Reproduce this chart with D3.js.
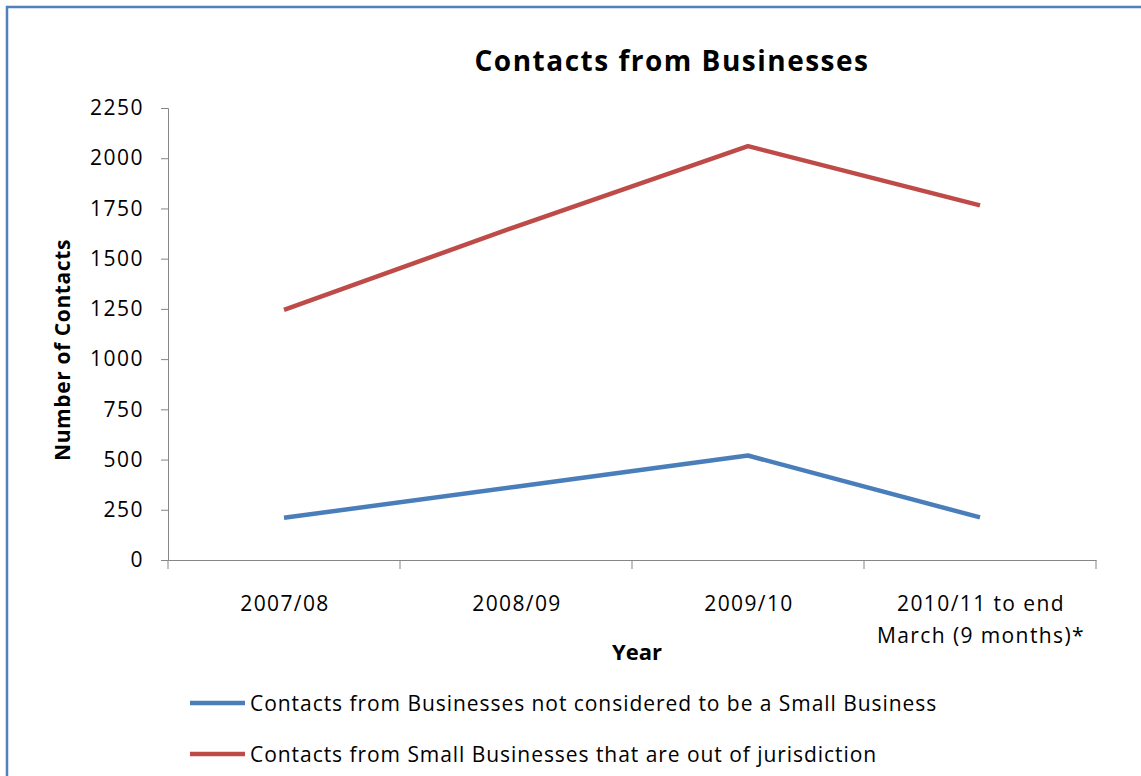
<!DOCTYPE html>
<html><head><meta charset="utf-8">
<script src="https://cdn.jsdelivr.net/npm/d3@7"></script>
<style>body{margin:0;background:#fff;font-family:"Open Sans",sans-serif;}</style>
</head><body>
<svg id="c" width="1141" height="776"></svg>
<script>
const categories = ["2007/08", "2008/09", "2009/10", "2010/11 to end|March (9 months)*"];
const notSmall = [210, 365, 520, 212];
const outOfJurisdiction = [1245, 1660, 2060, 1765];
const seriesNames = ["Contacts from Businesses not considered to be a Small Business",
                     "Contacts from Small Businesses that are out of jurisdiction"];
const yTicks = [0, 250, 500, 750, 1000, 1250, 1500, 1750, 2000, 2250];
const colors = ["#4a7ebb", "#be4b48"];

const svg = d3.select("#c");
const font = "'Open Sans', sans-serif";
// border
svg.append("path").attr("d", "M7,776 L7,7 L1141,7").attr("fill","none").attr("stroke","#4f81bd").attr("stroke-width",2.5);

const x = d3.scaleBand().domain(categories).range([168, 1096]).padding(0);
const y = d3.scaleLinear().domain([0, 2250]).range([560, 108]);
const axisColor = "#868686";

// y axis
const ya = svg.append("g").attr("transform","translate(168,0)")
  .call(d3.axisLeft(y).tickValues(yTicks).tickSize(7).tickPadding(17).tickFormat(d3.format("d")));
ya.select(".domain").attr("stroke", axisColor);
ya.selectAll(".tick line").attr("stroke", axisColor);
ya.selectAll("text").attr("font-size", 21).attr("letter-spacing", 1.5).attr("font-family", font).attr("fill","#000");

// x axis
const xa = svg.append("g").attr("transform","translate(0,560)")
  .call(d3.axisBottom(x).tickSize(0).tickFormat(""));
xa.select(".domain").attr("stroke", axisColor);
const xt = categories.map(c => x(c)).concat([x.range()[1]]);
svg.selectAll(".xtick").data(xt).enter().append("line")
  .attr("x1", d=>d).attr("x2", d=>d).attr("y1",560).attr("y2",569).attr("stroke",axisColor);
categories.forEach(c => {
  const lines = c.split("|");
  const cx = x(c) + x.bandwidth()/2 + 1;
  const t = svg.append("text").attr("x", cx).attr("y", 611)
    .attr("text-anchor","middle").attr("font-size",21).attr("letter-spacing",1.4).attr("font-family",font).attr("fill","#000");
  lines.forEach((l,i) => t.append("tspan").attr("x", cx).attr("dy", i===0?0:32).text(l));
});

// lines
const line = d3.line().x((d,i)=>x(categories[i]) + x.bandwidth()/2).y(d=>y(d));
[notSmall, outOfJurisdiction].forEach((s,i) => {
  svg.append("path").attr("d", line(s)).attr("fill","none").attr("stroke",colors[i])
    .attr("stroke-width",4.5).attr("stroke-linejoin","round");
});

// titles
svg.append("text").attr("x", 672).attr("y", 71).attr("text-anchor","middle")
  .attr("font-size",28).attr("letter-spacing",1.5).attr("font-weight","bold").attr("font-family",font).text("Contacts from Businesses");
svg.append("text").attr("transform","translate(70,350) rotate(-90)").attr("text-anchor","middle")
  .attr("font-size",21).attr("letter-spacing",0.6).attr("font-weight","bold").attr("font-family",font).text("Number of Contacts");
svg.append("text").attr("x", 637).attr("y", 660).attr("text-anchor","middle")
  .attr("font-size",22).attr("font-weight","bold").attr("font-family",font).text("Year");

// legend
seriesNames.forEach((n,i) => {
  const ly = 703 + i*51;
  svg.append("line").attr("x1",190).attr("x2",245).attr("y1",ly).attr("y2",ly)
    .attr("stroke",colors[i]).attr("stroke-width",4.5);
  svg.append("text").attr("x",250).attr("y",ly+8).attr("font-size",21).attr("letter-spacing",0.95)
    .attr("font-family",font).text(n);
});
</script>
</body></html>
